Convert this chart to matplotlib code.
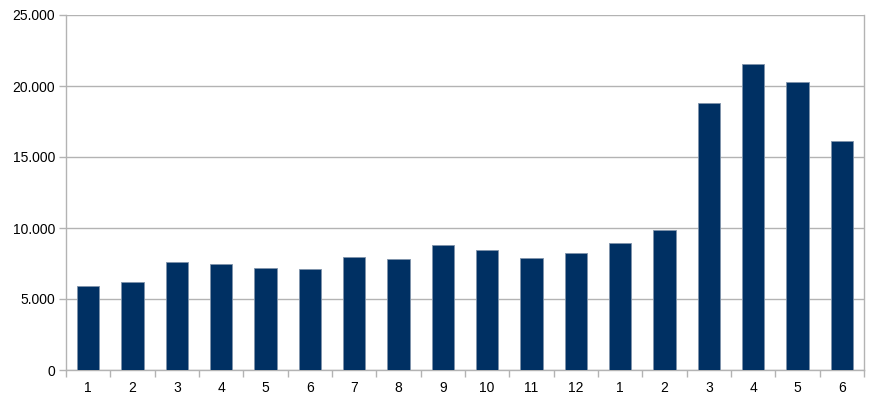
import matplotlib
matplotlib.use("Agg")
import matplotlib.pyplot as plt
from matplotlib.ticker import FuncFormatter, FixedLocator
import numpy as np

labels = ["1", "2", "3", "4", "5", "6", "7", "8", "9", "10", "11", "12",
          "1", "2", "3", "4", "5", "6"]
values = [5900, 6200, 7620, 7450, 7200, 7100, 7980, 7800, 8800, 8480, 7900, 8250,
          8950, 9880, 18780, 21580, 20270, 16160]

plt.rcParams['font.family'] = ['Liberation Sans', 'DejaVu Sans']

fig = plt.figure(figsize=(8.82, 4.03), dpi=100)
ax = fig.add_axes([66/882, 33/403, (864-66)/882, (370-15)/403])

x = np.arange(len(values))
ax.bar(x, values, width=0.5, color="#003063", edgecolor="#7f93ab", linewidth=0.6, zorder=3)

ax.set_xlim(-0.5, len(values) - 0.5)
ax.set_ylim(0, 25000)
ax.set_yticks(np.arange(0, 25001, 5000))
ax.yaxis.set_major_formatter(FuncFormatter(lambda v, p: f"{int(v):,}".replace(",", ".")))
ax.grid(axis="y", color="#b3b3b3", linewidth=1, zorder=0)

ax.set_xticks(x)
ax.set_xticklabels(labels)
ax.xaxis.set_minor_locator(FixedLocator(np.arange(-0.5, len(values), 1.0)))
ax.tick_params(axis="x", which="major", length=0, pad=8, labelsize=10, colors="black")
ax.tick_params(axis="x", which="minor", length=5, color="#b3b3b3", width=1)
ax.tick_params(axis="y", which="major", length=5, color="#b3b3b3", width=1, pad=3, labelsize=10)

for s in ["left", "right", "bottom"]:
    ax.spines[s].set_color("#b3b3b3")
    ax.spines[s].set_linewidth(1)
ax.spines["top"].set_visible(False)

fig.savefig("out.png", dpi=100)
